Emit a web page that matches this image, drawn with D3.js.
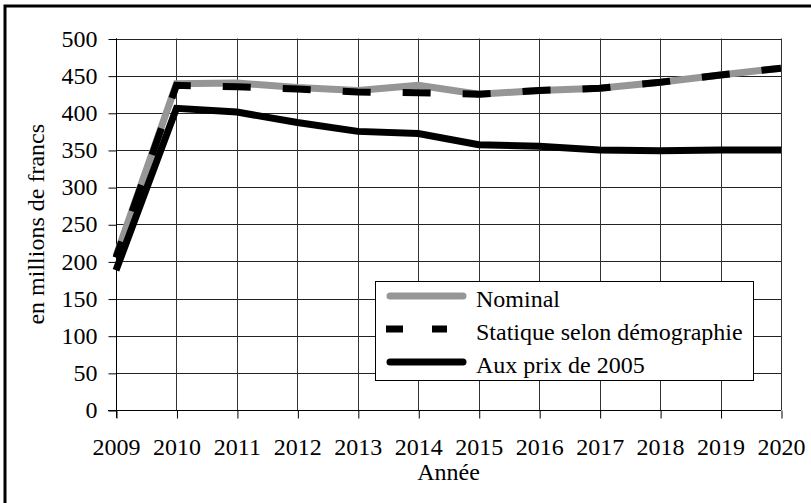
<!DOCTYPE html>
<html>
<head>
<meta charset="utf-8">
<script src="https://cdn.jsdelivr.net/npm/d3@7"></script>
</head>
<body style="margin:0">
<svg id="chart" width="811" height="503" style="display:block;font-family:'Liberation Serif','Times New Roman',Tinos,serif"></svg>
<script>
const years = [2009, 2010, 2011, 2012, 2013, 2014, 2015, 2016, 2017, 2018, 2019, 2020];
const nominal = [207, 439, 440, 434, 430, 437, 425, 430, 433, 441, 451, 460];
const statique = [205, 437, 435, 432, 428, 427, 425, 430, 433, 441, 451, 460];
const prix2005 = [188, 406, 401, 387, 375, 372, 357, 355, 350, 349, 350, 350];
const yTicks = [0, 50, 100, 150, 200, 250, 300, 350, 400, 450, 500];
const seriesNames = ["Nominal", "Statique selon démographie", "Aux prix de 2005"];
const xTitle = "Année";
const yTitle = "en millions de francs";

const FONT = "'Liberation Serif', 'Times New Roman', Tinos, serif";
const FS = 24;
const svg = d3.select("#chart");
const x = d3.scaleLinear().domain([2009, 2020]).range([116, 781]);
const y = d3.scaleLinear().domain([0, 500]).range([410, 38.5]);

// outer frame (cropped on right/bottom)
svg.append("path").attr("d", "M5,503 L5,6 L811,6")
  .attr("fill", "none").attr("stroke", "#000").attr("stroke-width", 3);

// grid
const g = svg.append("g");
g.selectAll("line.h").data(yTicks).join("line")
  .attr("x1", x(2009)).attr("x2", x(2020))
  .attr("y1", d => Math.round(y(d)) + 0.5).attr("y2", d => Math.round(y(d)) + 0.5)
  .attr("stroke", "#222").attr("stroke-width", 1);
g.selectAll("line.v").data(years).join("line")
  .attr("y1", y(500)).attr("y2", y(0))
  .attr("x1", d => Math.round(x(d)) + 0.5).attr("x2", d => Math.round(x(d)) + 0.5)
  .attr("stroke", "#333").attr("stroke-width", 1);

// axes
const yAxis = d3.axisLeft(y).tickValues(yTicks).tickSize(8).tickPadding(11);
const yg = svg.append("g").attr("transform", "translate(" + (Math.round(x(2009)) + 0.5) + ",0)").call(yAxis);
yg.attr("font-family", null).attr("font-size", null);
yg.select(".domain").remove();
yg.selectAll(".tick line").attr("stroke", "#000").attr("transform", "translate(0,0.5)");
yg.selectAll(".tick text").attr("font-size", FS).attr("font-family", FONT).style("font-family", FONT).attr("fill", "#000");

const xAxis = d3.axisBottom(x).tickValues(years).tickFormat(d3.format("d")).tickSize(8).tickPadding(19);
const xg = svg.append("g").attr("transform", "translate(0," + (Math.round(y(0)) + 0.5) + ")").call(xAxis);
xg.attr("font-family", null).attr("font-size", null);
xg.select(".domain").remove();
xg.selectAll(".tick line").attr("stroke", "#000").attr("transform", "translate(0.5,0)");
xg.selectAll(".tick text").attr("font-size", FS).attr("font-family", FONT).style("font-family", FONT).attr("fill", "#000");

// axis lines
svg.append("line").attr("x1", Math.round(x(2009)) + 0.5).attr("x2", Math.round(x(2009)) + 0.5)
  .attr("y1", y(500)).attr("y2", y(0) + 8).attr("stroke", "#000");
svg.append("line").attr("x1", x(2009) - 8).attr("x2", x(2020))
  .attr("y1", Math.round(y(0)) + 0.5).attr("y2", Math.round(y(0)) + 0.5).attr("stroke", "#000");

// titles
svg.append("text").attr("x", (x(2009) + x(2020)) / 2).attr("y", 480)
  .attr("text-anchor", "middle").attr("font-size", FS).attr("font-family", FONT).style("font-family", FONT).text(xTitle);
svg.append("text").attr("transform", "translate(44," + ((y(0) + y(500)) / 2) + ") rotate(-90)")
  .attr("text-anchor", "middle").attr("font-size", FS).attr("font-family", FONT).style("font-family", FONT).text(yTitle);

// lines
const line = d3.line().x((d, i) => x(years[i])).y(d => y(d));
svg.append("path").datum(nominal).attr("d", line)
  .attr("fill", "none").attr("stroke", "#969696").attr("stroke-width", 7).attr("stroke-linejoin", "miter");
svg.append("path").datum(statique).attr("d", line)
  .attr("fill", "none").attr("stroke", "#000").attr("stroke-width", 7)
  .attr("stroke-dasharray", "28,32").attr("stroke-dashoffset", 11).attr("stroke-linejoin", "miter");
svg.append("path").datum(prix2005).attr("d", line)
  .attr("fill", "none").attr("stroke", "#000").attr("stroke-width", 7).attr("stroke-linejoin", "miter");

// legend
const lg = svg.append("g");
lg.append("rect").attr("x", 375.5).attr("y", 281.5).attr("width", 378).attr("height", 99)
  .attr("fill", "#fff").attr("stroke", "#000").attr("stroke-width", 1);
const rows = [
  { name: seriesNames[0], color: "#969696", dash: null, cap: "round" },
  { name: seriesNames[1], color: "#000", dash: "17,29,15,100", cap: "butt" },
  { name: seriesNames[2], color: "#000", dash: null, cap: "round" }
];
rows.forEach((r, i) => {
  const cy = 296 + i * 33;
  const l = lg.append("line").attr("x1", r.cap === "round" ? 390 : 386).attr("x2", r.cap === "round" ? 463 : 467)
    .attr("y1", cy).attr("y2", cy)
    .attr("stroke", r.color).attr("stroke-width", 7).attr("stroke-linecap", r.cap);
  if (r.dash) l.attr("stroke-dasharray", r.dash);
  lg.append("text").attr("x", 476).attr("y", cy + 10.5).attr("font-size", FS)
    .attr("font-family", FONT).style("font-family", FONT).text(r.name);
});
</script>
</body>
</html>
